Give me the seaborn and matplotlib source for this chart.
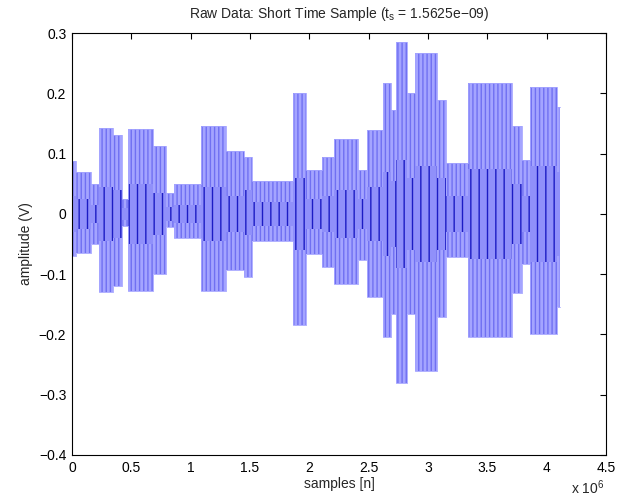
import matplotlib
matplotlib.use('Agg')
import matplotlib.pyplot as plt
import numpy as np
import pandas as pd
import seaborn as sns

# segment edges along the sample axis (x 10^6 samples)
seg_edges = [0, 0.035, 0.16, 0.225, 0.35, 0.42, 0.475, 0.68, 0.79, 0.86,
             1.09, 1.30, 1.45, 1.52, 1.86, 1.97, 2.11, 2.21, 2.41, 2.49,
             2.62, 2.69, 2.73, 2.82, 2.89, 3.08, 3.15, 3.34, 3.71, 3.79,
             3.86, 4.09, 4.11]
# outer envelope of the burst signal (V)
env_upper = [0.088, 0.070, 0.050, 0.143, 0.130, 0.025, 0.140, 0.113, 0.035,
             0.050, 0.145, 0.105, 0.095, 0.055, 0.200, 0.072, 0.095, 0.125,
             0.072, 0.139, 0.217, 0.172, 0.285, 0.200, 0.266, 0.189, 0.084,
             0.217, 0.145, 0.089, 0.211, 0.178]
env_lower = [-0.070, -0.065, -0.050, -0.130, -0.120, -0.020, -0.128, -0.100,
             -0.022, -0.040, -0.128, -0.093, -0.104, -0.045, -0.185, -0.066,
             -0.088, -0.116, -0.077, -0.138, -0.204, -0.166, -0.280, -0.166,
             -0.260, -0.171, -0.071, -0.204, -0.132, -0.083, -0.199, -0.155]
# inner (dense, dark) part of the trace (V)
core_upper = [0.030, 0.025, 0.015, 0.045, 0.040, 0.010, 0.050, 0.035, 0.012,
              0.015, 0.045, 0.030, 0.040, 0.020, 0.060, 0.025, 0.030, 0.040,
              0.025, 0.045, 0.070, 0.055, 0.090, 0.060, 0.080, 0.060, 0.030,
              0.075, 0.050, 0.030, 0.080, 0.070]
core_lower = [-0.030, -0.025, -0.015, -0.045, -0.040, -0.010, -0.050, -0.035,
              -0.012, -0.015, -0.045, -0.030, -0.035, -0.020, -0.060, -0.025,
              -0.030, -0.040, -0.025, -0.045, -0.070, -0.055, -0.090, -0.060,
              -0.080, -0.060, -0.030, -0.075, -0.050, -0.030, -0.080, -0.070]

x_ticks = [0, 0.5, 1, 1.5, 2, 2.5, 3, 3.5, 4, 4.5]
y_ticks = [-0.4, -0.3, -0.2, -0.1, 0, 0.1, 0.2, 0.3]

sns.set_style('white')
plt.rcParams['font.family'] = ['Liberation Sans', 'DejaVu Sans']
plt.rcParams['hatch.linewidth'] = 1.0

df = pd.DataFrame({
    'x': seg_edges,
    'up': env_upper + env_upper[-1:],
    'lo': env_lower + env_lower[-1:],
    'cu': core_upper + core_upper[-1:],
    'cl': core_lower + core_lower[-1:],
})

fig = plt.figure(figsize=(6.42, 5.0), dpi=100)
ax = fig.add_axes([0.112, 0.09, 0.832, 0.844])

# light blue band with vertical line texture
ax.fill_between(df['x'], df['lo'], df['up'], step='post',
                facecolor='#a4a4ff', edgecolor='#7070f2', hatch='||||', linewidth=0)
# darker noisy core
ax.fill_between(df['x'], df['cl'], df['cu'], step='post',
                facecolor='#9090fa', edgecolor='#1c1cc4', hatch='||', linewidth=0)
sns.lineplot(data=df, x='x', y='up', ax=ax, color='#a4a4ff', lw=0.6,
             drawstyle='steps-post', estimator=None)
sns.lineplot(data=df, x='x', y='lo', ax=ax, color='#a4a4ff', lw=0.6,
             drawstyle='steps-post', estimator=None)

ax.set_xlim(0, 4.5)
ax.set_ylim(-0.4, 0.3)
ax.set_xticks(x_ticks)
ax.set_xticklabels(['0', '0.5', '1', '1.5', '2', '2.5', '3', '3.5', '4', '4.5'])
ax.set_yticks(y_ticks)
ax.set_yticklabels(['\u22120.4', '\u22120.3', '\u22120.2', '\u22120.1', '0',
                    '0.1', '0.2', '0.3'])
ax.tick_params(direction='in', top=True, right=True, length=4, width=0.8,
               labelsize=10, colors='black', pad=4)
for sp in ax.spines.values():
    sp.set_color('black')
    sp.set_linewidth(0.8)

ax.set_xlabel('samples [n]', fontsize=10, labelpad=2)
ax.set_ylabel('amplitude (V)', fontsize=10, labelpad=4)
ax.set_title('Raw Data: Short Time Sample (t$_\\mathregular{s}$ = 1.5625e\u221209)',
             fontsize=10, pad=11)
fig.text(0.89, 0.012, 'x 10$^\\mathregular{6}$', fontsize=10)

fig.savefig('out.png', dpi=100)
